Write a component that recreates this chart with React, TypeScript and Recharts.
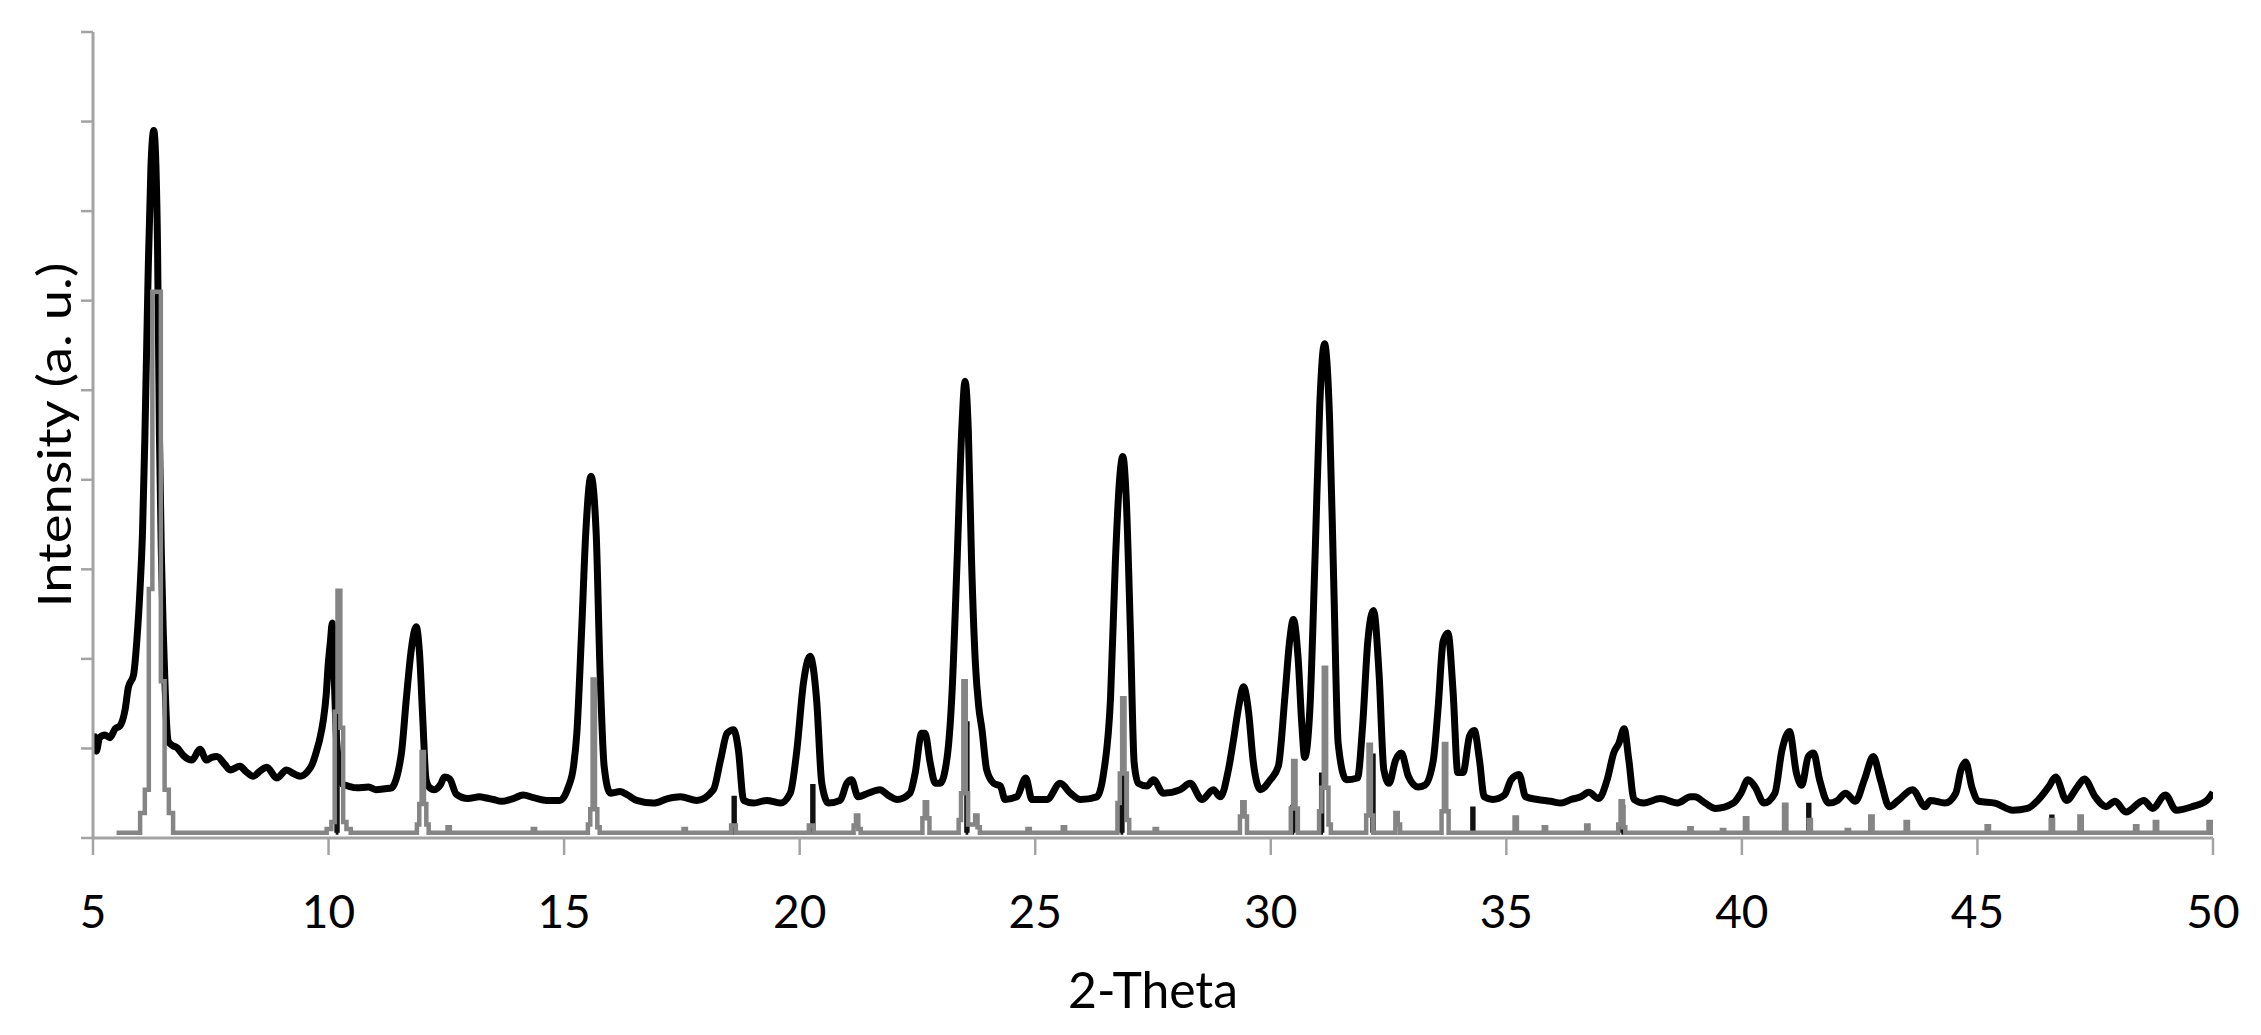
import { LineChart, Line, XAxis, YAxis, Label } from 'recharts';

// 2-theta ticks and the unlabelled intensity ticks
const thetaTicks = [5, 10, 15, 20, 25, 30, 35, 40, 45, 50];
const intensityTicks = [0, 1, 2, 3, 4, 5, 6, 7, 8, 9];

// measured pattern (thick black), [2theta, intensity]
const measured: [number, number][] = [
  [5.0, 1.1], [5.04, 1.13], [5.07, 0.97], [5.14, 1.12], [5.25, 1.15], [5.36, 1.12], [5.47, 1.22],
  [5.57, 1.25], [5.68, 1.43], [5.75, 1.68], [5.86, 1.82], [5.93, 2.2], [6.0, 2.8], [6.05, 3.4],
  [6.1, 4.45], [6.17, 6.29], [6.23, 7.5], [6.29, 7.9], [6.33, 7.6], [6.37, 6.6], [6.41, 4.5],
  [6.45, 3.2], [6.49, 2.33], [6.53, 1.7], [6.56, 1.3], [6.6, 1.08], [6.7, 1.03], [6.78, 1.01],
  [6.92, 0.92], [7.1, 0.87], [7.27, 0.99], [7.41, 0.87], [7.52, 0.9], [7.63, 0.91], [7.8, 0.82],
  [7.91, 0.76], [8.12, 0.8], [8.25, 0.74], [8.4, 0.69], [8.55, 0.75], [8.69, 0.79], [8.9, 0.67],
  [9.11, 0.76], [9.25, 0.72], [9.4, 0.69], [9.55, 0.74], [9.65, 0.82], [9.75, 0.98], [9.82, 1.12],
  [9.89, 1.32], [9.95, 1.6], [9.99, 1.92], [10.04, 2.2], [10.08, 2.4], [10.12, 1.8], [10.16, 1.2],
  [10.22, 0.8], [10.3, 0.6], [10.42, 0.58], [10.6, 0.56], [10.85, 0.57], [11.0, 0.54], [11.2, 0.55],
  [11.34, 0.56], [11.41, 0.62], [11.5, 0.8], [11.55, 0.96], [11.65, 1.55], [11.76, 2.12], [11.86, 2.36],
  [11.93, 2.07], [12.0, 1.33], [12.07, 0.65], [12.15, 0.56], [12.25, 0.54], [12.38, 0.6], [12.46, 0.68],
  [12.57, 0.66], [12.71, 0.49], [12.96, 0.44], [13.21, 0.46], [13.32, 0.45], [13.5, 0.43], [13.67, 0.41],
  [13.92, 0.44], [14.13, 0.48], [14.35, 0.45], [14.63, 0.42], [14.91, 0.42], [15.09, 0.57], [15.2, 0.8],
  [15.27, 1.17], [15.37, 2.29], [15.46, 3.41], [15.57, 4.04], [15.68, 3.41], [15.76, 1.91], [15.85, 0.8],
  [15.98, 0.5], [16.19, 0.52], [16.35, 0.48], [16.54, 0.42], [16.9, 0.39], [17.2, 0.44], [17.47, 0.46],
  [17.82, 0.42], [18.17, 0.54], [18.32, 0.87], [18.46, 1.17], [18.6, 1.21], [18.7, 0.98], [18.81, 0.42],
  [19.02, 0.39], [19.3, 0.42], [19.59, 0.39], [19.8, 0.5], [19.94, 0.98], [20.08, 1.73], [20.22, 2.03],
  [20.36, 1.54], [20.47, 0.61], [20.61, 0.39], [20.86, 0.42], [21.0, 0.61], [21.1, 0.65], [21.24, 0.46],
  [21.45, 0.5], [21.7, 0.54], [21.9, 0.47], [22.07, 0.43], [22.34, 0.5], [22.45, 0.72], [22.59, 1.17],
  [22.66, 1.17], [22.77, 0.84], [22.88, 0.61], [22.98, 0.61], [23.13, 0.9], [23.23, 1.58], [23.34, 3.07],
  [23.44, 4.55], [23.51, 5.1], [23.58, 4.55], [23.65, 3.07], [23.73, 1.95], [23.8, 1.47], [23.87, 1.21],
  [23.97, 0.76], [24.12, 0.61], [24.26, 0.58], [24.36, 0.43], [24.61, 0.46], [24.8, 0.67], [24.93, 0.43],
  [25.25, 0.43], [25.53, 0.61], [25.75, 0.5], [25.96, 0.43], [26.31, 0.46], [26.45, 0.72], [26.6, 1.58],
  [26.7, 3.07], [26.79, 4.0], [26.86, 4.26], [26.93, 3.81], [27.02, 2.32], [27.1, 0.84], [27.19, 0.61],
  [27.37, 0.58], [27.51, 0.65], [27.72, 0.5], [28.08, 0.54], [28.29, 0.61], [28.54, 0.43], [28.78, 0.54],
  [28.93, 0.46], [29.1, 0.76], [29.21, 1.1], [29.32, 1.47], [29.42, 1.69], [29.53, 1.4], [29.63, 0.84],
  [29.78, 0.54], [29.99, 0.65], [30.16, 0.8], [30.3, 1.58], [30.4, 2.2], [30.48, 2.44], [30.58, 2.01],
  [30.66, 1.26], [30.72, 0.9], [30.83, 1.44], [30.94, 3.14], [31.04, 4.84], [31.14, 5.52], [31.25, 4.65],
  [31.34, 2.77], [31.43, 1.06], [31.6, 0.65], [31.84, 0.67], [31.95, 1.26], [32.06, 2.2], [32.18, 2.54],
  [32.3, 1.82], [32.4, 0.76], [32.51, 0.61], [32.65, 0.87], [32.77, 0.95], [32.92, 0.69], [33.13, 0.57],
  [33.27, 0.59], [33.45, 0.87], [33.55, 1.44], [33.66, 2.2], [33.76, 2.29], [33.87, 1.63], [33.97, 0.73],
  [34.08, 0.73], [34.22, 1.14], [34.32, 1.2], [34.43, 0.87], [34.53, 0.46], [34.71, 0.43], [34.96, 0.48],
  [35.1, 0.65], [35.27, 0.71], [35.41, 0.46], [35.66, 0.43], [35.94, 0.41], [36.16, 0.39], [36.37, 0.43],
  [36.58, 0.46], [36.75, 0.51], [36.96, 0.44], [37.14, 0.65], [37.28, 0.95], [37.39, 1.06], [37.5, 1.22],
  [37.6, 0.87], [37.71, 0.43], [37.92, 0.39], [38.27, 0.44], [38.63, 0.39], [38.91, 0.46], [39.0, 0.46],
  [39.22, 0.39], [39.44, 0.33], [39.82, 0.39], [39.98, 0.5], [40.13, 0.65], [40.28, 0.57], [40.47, 0.39],
  [40.7, 0.5], [40.85, 0.98], [41.01, 1.19], [41.16, 0.72], [41.27, 0.59], [41.41, 0.91], [41.52, 0.95],
  [41.65, 0.65], [41.84, 0.39], [42.03, 0.42], [42.2, 0.5], [42.41, 0.41], [42.6, 0.65], [42.79, 0.91],
  [42.94, 0.65], [43.13, 0.35], [43.32, 0.42], [43.62, 0.54], [43.89, 0.35], [44.0, 0.42], [44.31, 0.39],
  [44.54, 0.5], [44.65, 0.76], [44.75, 0.85], [44.88, 0.57], [45.03, 0.41], [45.37, 0.39], [45.75, 0.31],
  [46.06, 0.33], [46.28, 0.42], [46.51, 0.57], [46.66, 0.68], [46.89, 0.42], [47.12, 0.57], [47.27, 0.66],
  [47.5, 0.46], [47.73, 0.35], [47.92, 0.41], [48.15, 0.29], [48.53, 0.42], [48.72, 0.33], [48.99, 0.48],
  [49.22, 0.31], [49.56, 0.35], [49.87, 0.42], [50.0, 0.51],
];

// calculated pattern (grey steps)
const calculated: [number, number][] = [
  [5.5, 0.06], [5.95, 0.06], [6.05, 0.28], [6.15, 0.54], [6.22, 2.78], [6.3, 6.1], [6.4, 6.1],
  [6.48, 1.75], [6.56, 0.54], [6.66, 0.28], [6.74, 0.06],
  [9.9, 0.06], [10.02, 0.1], [10.1, 0.18], [10.16, 1.41], [10.22, 2.76], [10.28, 1.23], [10.34, 0.18],
  [10.42, 0.1], [10.52, 0.06],
  [11.85, 0.06], [11.9, 0.15], [11.95, 0.38], [12.0, 0.96], [12.05, 0.38], [12.1, 0.15], [12.15, 0.06],
  [12.5, 0.06], [12.55, 0.12], [12.6, 0.06], [14.31, 0.06], [14.36, 0.1], [14.41, 0.06],
  [15.48, 0.06], [15.53, 0.15], [15.58, 0.32], [15.63, 1.77], [15.68, 0.32], [15.73, 0.12], [15.78, 0.06],
  [17.51, 0.06], [17.56, 0.1], [17.61, 0.06],
  [18.52, 0.06], [18.57, 0.14], [18.62, 0.14], [18.67, 0.06],
  [20.17, 0.06], [20.22, 0.14], [20.27, 0.14], [20.32, 0.06],
  [21.12, 0.06], [21.17, 0.14], [21.22, 0.25], [21.27, 0.1], [21.32, 0.06],
  [22.58, 0.06], [22.63, 0.22], [22.68, 0.4], [22.73, 0.22], [22.78, 0.06],
  [23.35, 0.06], [23.4, 0.2], [23.45, 0.5], [23.5, 1.75], [23.55, 0.5], [23.6, 0.15], [23.7, 0.15],
  [23.75, 0.25], [23.8, 0.12], [23.85, 0.06],
  [24.81, 0.06], [24.86, 0.1], [24.91, 0.06], [25.56, 0.06], [25.61, 0.12], [25.66, 0.06],
  [26.72, 0.06], [26.77, 0.39], [26.82, 0.72], [26.87, 1.56], [26.92, 0.72], [26.97, 0.2], [27.02, 0.06],
  [27.51, 0.06], [27.56, 0.1], [27.61, 0.06],
  [29.32, 0.06], [29.37, 0.24], [29.42, 0.4], [29.47, 0.24], [29.52, 0.06],
  [30.4, 0.06], [30.45, 0.33], [30.5, 0.86], [30.55, 0.33], [30.6, 0.06],
  [31.0, 0.06], [31.05, 0.3], [31.1, 0.56], [31.15, 1.9], [31.2, 0.56], [31.25, 0.15], [31.3, 0.06],
  [32.0, 0.06], [32.05, 0.25], [32.1, 1.04], [32.15, 0.25], [32.2, 0.06],
  [32.62, 0.06], [32.67, 0.28], [32.72, 0.15], [32.77, 0.06],
  [33.6, 0.06], [33.65, 0.3], [33.7, 1.05], [33.75, 0.3], [33.8, 0.06],
  [35.15, 0.06], [35.2, 0.23], [35.25, 0.06], [35.77, 0.06], [35.82, 0.12], [35.87, 0.06],
  [36.67, 0.06], [36.72, 0.14], [36.77, 0.06],
  [37.35, 0.06], [37.4, 0.15], [37.45, 0.41], [37.5, 0.12], [37.55, 0.06],
  [38.86, 0.06], [38.91, 0.11], [38.96, 0.06], [39.55, 0.06], [39.6, 0.09], [39.65, 0.06],
  [40.04, 0.06], [40.09, 0.22], [40.14, 0.06], [40.87, 0.06], [40.92, 0.37], [40.97, 0.06],
  [41.39, 0.06], [41.44, 0.2], [41.49, 0.06], [42.2, 0.06], [42.25, 0.09], [42.3, 0.06],
  [42.7, 0.06], [42.75, 0.24], [42.8, 0.06], [43.45, 0.06], [43.5, 0.18], [43.55, 0.06],
  [45.17, 0.06], [45.22, 0.13], [45.27, 0.06], [46.53, 0.06], [46.58, 0.2], [46.63, 0.06],
  [47.14, 0.06], [47.19, 0.24], [47.24, 0.06], [48.32, 0.06], [48.37, 0.13], [48.42, 0.06],
  [48.74, 0.06], [48.79, 0.18], [48.84, 0.06], [49.88, 0.06], [49.93, 0.18], [50.0, 0.06],
];

// dark sticks of the second calculated phase: [2theta, height]
const secondPhase: [number, number][] = [
  [10.18, 1.4], [18.61, 0.45], [20.28, 0.58], [23.55, 1.28], [26.84, 0.71], [30.47, 0.35],
  [31.08, 0.71], [32.17, 0.92], [34.29, 0.33], [37.47, 0.35], [41.42, 0.37], [46.58, 0.24],
];

const BASE = 0.06;

const rows = (pts: [number, number][]) => pts.map(([theta, intensity]) => ({ theta, intensity }));

// each stick is its own short path, separated by gaps so no baseline is drawn between them
const stickRows = (sticks: [number, number][]) =>
  sticks.flatMap(([theta, h]) => [
    { theta: theta - 0.03, intensity: BASE },
    { theta, intensity: h },
    { theta: theta + 0.03, intensity: BASE },
    { theta: theta + 0.04, intensity: null },
  ]);

const FONT = 'Lato, "Open Sans", sans-serif';
const AXIS_GREY = '#a3a3a3';

function ThetaTick(props: any) {
  const { x, y, payload } = props;
  return (
    <text x={x} y={y + 73} textAnchor="middle" fontFamily={FONT} fontSize={46} fill="#000">
      {payload.value}
    </text>
  );
}

function ThetaTitle(props: any) {
  const { x, y, width } = props.viewBox;
  return (
    <text x={x + width / 2} y={y + 170} textAnchor="middle" fontFamily={FONT} fontSize={50}
      textLength={170} lengthAdjust="spacingAndGlyphs" fill="#000">
      2-Theta
    </text>
  );
}

function IntensityTitle(props: any) {
  const { x, y, width, height } = props.viewBox;
  const bx = x + width - 22;
  const cy = y + height / 2;
  return (
    <text x={bx} y={cy} transform={`rotate(-90, ${bx}, ${cy})`} textAnchor="middle" fontFamily={FONT}
      fontSize={46} textLength={345} lengthAdjust="spacingAndGlyphs" fill="#000">
      Intensity (a. u.)
    </text>
  );
}

export default function App() {
  return (
    <div style={{ position: 'absolute', left: 0, top: 0, width: 2261, height: 1035, background: '#fff', overflow: 'hidden' }}>
      <LineChart width={2261} height={1035} margin={{ top: 32, right: 48, bottom: 137, left: 53 }}>
        <XAxis
          dataKey="theta"
          type="number"
          domain={[5, 50]}
          ticks={thetaTicks}
          allowDataOverflow
          height={60}
          axisLine={{ stroke: AXIS_GREY, strokeWidth: 3 }}
          tickLine={{ stroke: AXIS_GREY, strokeWidth: 2.5 }}
          tickSize={17}
          tickMargin={0}
          tick={<ThetaTick />}
          label={<Label content={ThetaTitle} />}
        />
        <YAxis
          type="number"
          domain={[0, 9]}
          ticks={intensityTicks}
          allowDataOverflow
          width={40}
          axisLine={{ stroke: AXIS_GREY, strokeWidth: 3 }}
          tickLine={{ stroke: AXIS_GREY, strokeWidth: 2.5 }}
          tickSize={12}
          tick={() => <g />}
          label={<Label content={IntensityTitle} />}
        />
        <Line data={rows(measured)} dataKey="intensity" type="monotone" stroke="#000" strokeWidth={7}
          strokeLinejoin="round" dot={false} activeDot={false} isAnimationActive={false} />
        <Line data={stickRows(secondPhase)} dataKey="intensity" type="step" stroke="#111" strokeWidth={4}
          connectNulls={false} dot={false} activeDot={false} isAnimationActive={false} />
        <Line data={rows(calculated)} dataKey="intensity" type="step" stroke="#858585" strokeWidth={4.5}
          dot={false} activeDot={false} isAnimationActive={false} />
      </LineChart>
    </div>
  );
}
